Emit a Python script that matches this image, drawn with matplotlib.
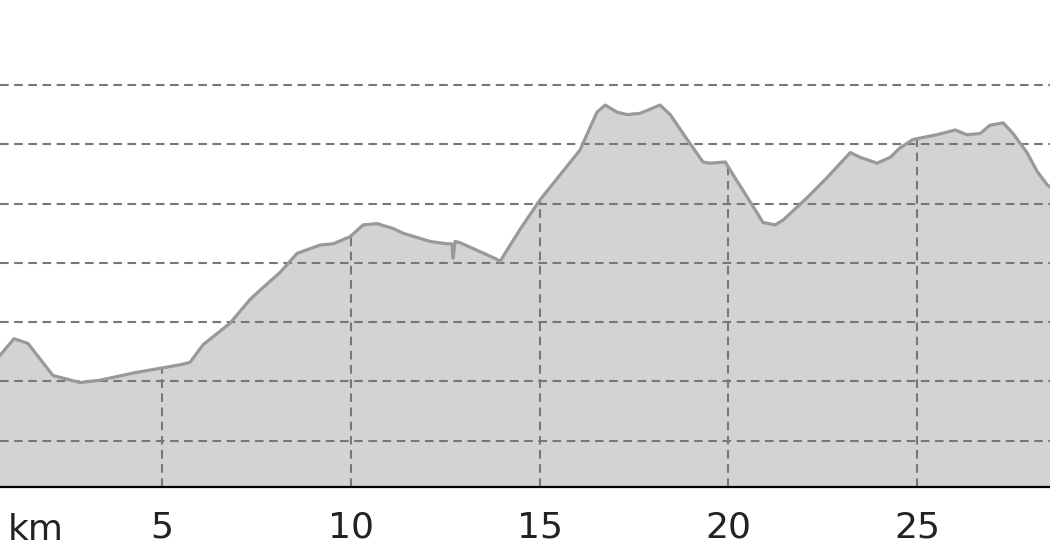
import matplotlib
matplotlib.use("Agg")
import matplotlib.pyplot as plt
import numpy as np

plt.rcParams['lines.scale_dashes'] = False
plt.rcParams['font.family'] = ['DejaVu Sans']

# Elevation profile (distance in km, elevation in m)
distance_km = [0.40, 0.71, 1.08, 1.45, 2.11, 2.83, 3.36, 4.23, 4.76, 5.48, 5.74, 6.09,
               6.80, 7.33, 7.60, 8.13, 8.58, 9.19, 9.53, 9.98, 10.33, 10.70, 11.12,
               11.38, 12.10, 12.55, 12.68, 12.71, 12.76, 12.89, 13.87, 13.95, 14.48,
               15.01, 16.07, 16.52, 16.74, 17.05, 17.32, 17.66, 18.19, 18.46, 18.91,
               19.33, 19.52, 19.92, 20.13, 20.39, 20.92, 21.24, 21.45, 22.09, 22.62,
               23.23, 23.49, 23.94, 24.29, 24.55, 24.89, 25.53, 26.01, 26.32, 26.67,
               26.93, 27.28, 27.54, 27.91, 28.18, 28.44, 28.66]
elevation_m = [163, 172, 186, 182, 155, 149, 151, 157, 160, 164, 166, 181,
               199, 219, 227, 242, 258, 265, 266, 272, 282, 283, 279,
               275, 268, 266, 266, 254, 268, 267, 253, 251, 278,
               303, 345, 377, 383, 377, 375, 376, 383, 375, 354,
               335, 334, 335, 324, 311, 284, 282, 286, 305, 322,
               343, 339, 334, 339, 347, 354, 358, 362, 358, 359,
               366, 368, 359, 343, 327, 316, 310]

tick_km = [5, 10, 15, 20, 25]
tick_labels = ["5", "10", "15", "20", "25"]
grid_elev = [100, 150, 200, 250, 300, 350, 400]

fig = plt.figure(figsize=(10.5, 5.6), dpi=100)
ax = fig.add_axes([0, 0.1309, 1, 0.8691])
x0, x1 = 0.709, 28.52
y0, y1 = 61.2, 471.6
ax.set_xlim(x0, x1)
ax.set_ylim(y0, y1)

d = np.array(distance_km)
e = np.array(elevation_m)

ax.fill_between(d, y0, e, color="#d3d3d3", lw=0, zorder=1)

grid_color = "#777777"
for g in grid_elev:
    ax.axhline(g, color=grid_color, lw=1.5, dashes=(6.2, 4.0), zorder=2)
for t in tick_km:
    top = np.interp(t, d, e)
    ax.plot([t, t], [y0, top], color=grid_color, lw=1.5, dashes=(6.2, 4.0), zorder=2)

ax.plot(d, e, color="#999999", lw=2.3, zorder=3, solid_joinstyle="round")

for sp in ["top", "left", "right"]:
    ax.spines[sp].set_visible(False)
ax.spines["bottom"].set_color("black")
ax.spines["bottom"].set_linewidth(1.6)
ax.spines["bottom"].set_zorder(4)

ax.set_yticks([])
ax.set_xticks(tick_km)
ax.set_xticklabels(tick_labels)
ax.tick_params(axis="x", length=0, pad=17, labelsize=26, labelcolor="#222222")

ax.text(36 / 1050, -(530 - 487) / 487, "km", transform=ax.transAxes, ha="center",
        va="center", fontsize=26, color="#222222")

fig.savefig("out.png", dpi=100)
